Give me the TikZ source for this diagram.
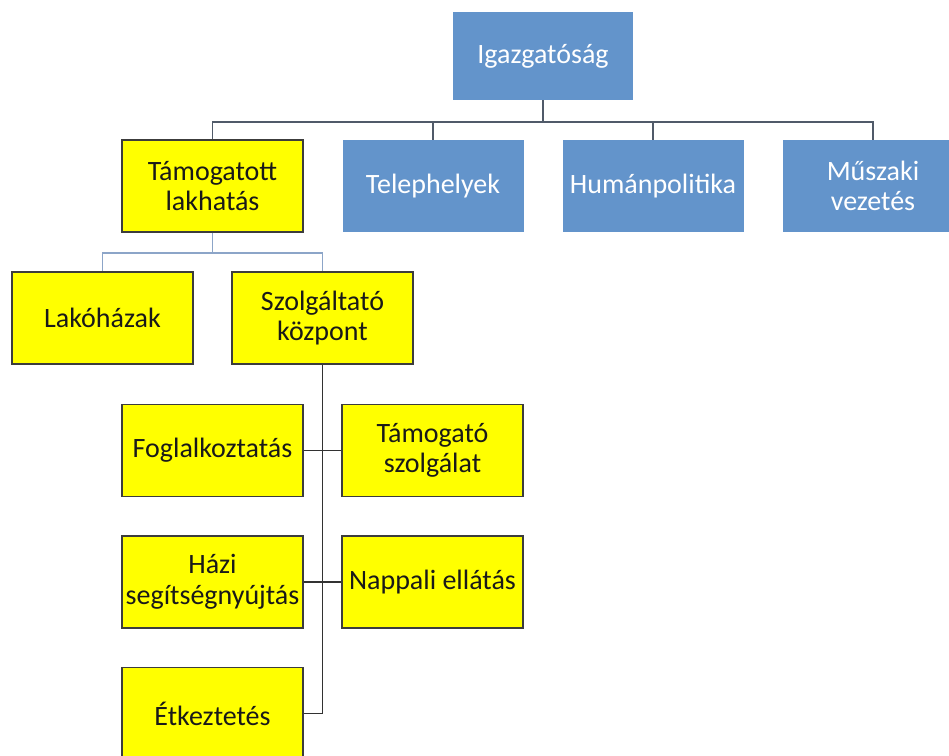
\documentclass[tikz,border=0pt]{standalone}
\usepackage{fontspec}
\setmainfont{Carlito}
\definecolor{boxblue}{RGB}{99,148,203}
\definecolor{boxyellow}{RGB}{255,255,0}
\definecolor{edgegray}{RGB}{60,60,60}
\definecolor{topline}{RGB}{80,90,105}
\definecolor{midline}{RGB}{140,165,200}
\definecolor{lowline}{RGB}{50,50,50}
\tikzset{
  basebox/.style={rectangle, minimum width=181pt, minimum height=92pt, inner sep=2pt,
    align=center, font=\fontsize{28}{30.5}\selectfont},
  bluebox/.style={basebox, fill=boxblue, text=white},
  yelbox/.style={basebox, fill=boxyellow, draw=edgegray, line width=1.6pt, text=black!90},
  topconn/.style={draw=topline, line width=1.5pt},
  midconn/.style={draw=midline, line width=1.7pt},
  lowconn/.style={draw=lowline, line width=1.7pt}
}
\begin{document}
\begin{tikzpicture}[x=1pt,y=-1pt]
\clip (0,0) rectangle (949,755);
\fill[white] (0,0) rectangle (949,755);
% nodes
\node[bluebox, minimum width=180pt, minimum height=88pt] (igaz) at (543,56) {Igazgatóság};
\node[yelbox] (tam) at (212.5,186) {Támogatott\\lakhatás};
\node[bluebox] (tel) at (433,186) {Telephelyek};
\node[bluebox] (hum) at (653,186) {Humánpolitika};
\node[bluebox] (mus) at (873,186) {Műszaki\\vezetés};
\node[yelbox] (lako) at (102.5,318) {Lakóházak};
\node[yelbox] (szolg) at (322.5,318) {Szolgáltató\\központ};
\node[yelbox] (fog) at (212.5,450.5) {Foglalkoztatás};
\node[yelbox] (tamsz) at (432.5,450.5) {Támogató\\szolgálat};
\node[yelbox] (hazi) at (212.5,582) {Házi\\segítségnyújtás};
\node[yelbox] (napp) at (432.5,582) {Nappali ellátás};
\node[yelbox] (etk) at (212.5,713.5) {Étkeztetés};
% connectors
\coordinate (bus1) at (543,122);
\draw[topconn] (igaz.south) -- (bus1);
\draw[topconn] (bus1) -| (tam.north);
\draw[topconn] (bus1) -| (tel.north);
\draw[topconn] (bus1) -| (hum.north);
\draw[topconn] (bus1) -| (mus.north);
\coordinate (bus2) at (212.5,253);
\draw[midconn] (tam.south) -- (bus2);
\draw[midconn] (bus2) -| (lako.north);
\draw[midconn] (bus2) -| (szolg.north);
\coordinate (bus3) at (322.5,713.5);
\draw[lowconn] (szolg.south) -- (bus3) -- (etk.east);
\draw[lowconn] (fog.east) -- (tamsz.west);
\draw[lowconn] (hazi.east) -- (napp.west);
\end{tikzpicture}
\end{document}
